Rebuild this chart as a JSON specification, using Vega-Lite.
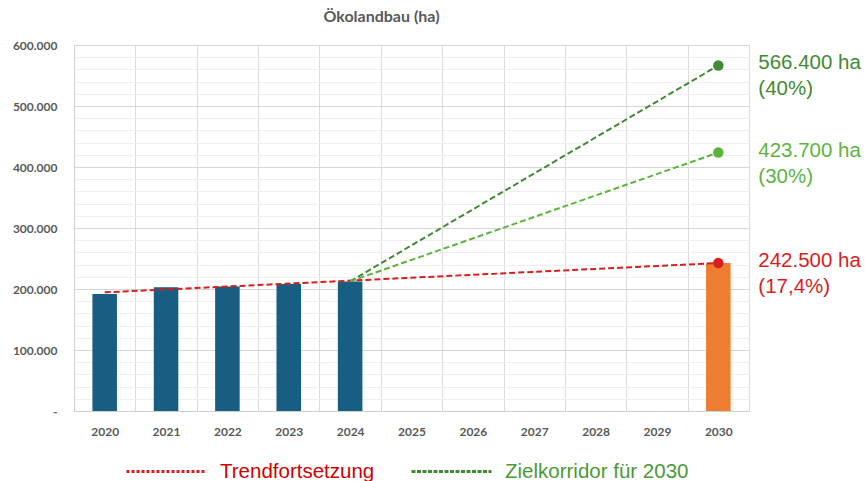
{
  "$schema": "https://vega.github.io/schema/vega-lite/v6.json",
  "width": 675,
  "height": 366,
  "autosize": {"type": "none"},
  "padding": {"left": 74, "top": 45, "right": 116, "bottom": 70},
  "background": "white",
  "config": {
    "view": {"stroke": "#8fb0c8", "strokeWidth": 1},
    "font": "Lato"
  },
  "title": {
    "text": "Ökolandbau (ha)",
    "font": "Lato",
    "fontSize": 16,
    "fontWeight": "bold",
    "color": "#595959",
    "anchor": "middle",
    "dx": -30,
    "offset": 14
  },
  "datasets": {
    "bars": [
      {"year": "2020", "value": 192000},
      {"year": "2021", "value": 203000},
      {"year": "2022", "value": 204000},
      {"year": "2023", "value": 208000},
      {"year": "2024", "value": 212500},
      {"year": "2030", "value": 242500}
    ],
    "lines": [
      {"series": "Trendfortsetzung", "year": "2020", "value": 194500},
      {"series": "Trendfortsetzung", "year": "2030", "value": 242500},
      {"series": "Zielkorridor für 2030", "year": "2024", "value": 212500},
      {"series": "Zielkorridor für 2030", "year": "2030", "value": 566400},
      {"series": "Ziel 30%", "year": "2024", "value": 212500},
      {"series": "Ziel 30%", "year": "2030", "value": 423700}
    ],
    "targets": [
      {"series": "Zielkorridor für 2030", "year": "2030", "value": 566400, "label": "566.400 ha\n(40%)"},
      {"series": "Ziel 30%", "year": "2030", "value": 423700, "label": "423.700 ha\n(30%)"},
      {"series": "Trendfortsetzung", "year": "2030", "value": 242500, "label": "242.500 ha\n(17,4%)"}
    ]
  },
  "encoding": {
    "x": {
      "field": "year",
      "type": "ordinal",
      "scale": {
        "domain": ["2020","2021","2022","2023","2024","2025","2026","2027","2028","2029","2030"],
        "paddingInner": 0,
        "paddingOuter": 0
      },
      "axis": {
        "title": null,
        "tickBand": "extent",
        "ticks": false,
        "grid": true,
        "gridColor": "#dcdcdc",
        "domainColor": "#d0d0d0",
        "labelAngle": 0,
        "labelFont": "Lato",
        "labelFontSize": 12,
        "labelFontWeight": "bold",
        "labelColor": "#595959",
        "labelPadding": 15
      }
    },
    "y": {
      "field": "value",
      "type": "quantitative",
      "scale": {"domain": [0, 600000], "nice": false, "zero": true},
      "axis": {
        "title": null,
        "values": [0,20000,40000,60000,80000,100000,120000,140000,160000,180000,200000,220000,240000,260000,280000,300000,320000,340000,360000,380000,400000,420000,440000,460000,480000,500000,520000,540000,560000,580000,600000],
        "labelExpr": "datum.value % 100000 === 0 ? (datum.value === 0 ? '-' : (datum.value / 1000) + '.000') : ''",
        "labelOverlap": false,
        "ticks": false,
        "domain": true,
        "domainColor": "#d0d0d0",
        "grid": true,
        "gridColor": {"condition": {"test": "datum.value % 100000 === 0", "value": "#d6d6d6"}, "value": "#efefef"},
        "labelFont": "Lato",
        "labelFontSize": 12,
        "labelFontWeight": "bold",
        "labelColor": "#595959",
        "labelPadding": 17
      }
    }
  },
  "layer": [
    {
      "data": {"name": "bars"},
      "mark": {"type": "bar", "width": {"band": 0.4}},
      "encoding": {
        "color": {
          "condition": {"test": "datum.year === '2030'", "value": "#ED7D31"},
          "value": "#175E82"
        }
      }
    },
    {
      "data": {"name": "lines"},
      "mark": {"type": "line", "strokeDash": [6, 3], "strokeWidth": 2},
      "encoding": {
        "detail": {"field": "series"},
        "color": {
          "field": "series",
          "type": "nominal",
          "scale": {
            "domain": ["Trendfortsetzung", "Zielkorridor für 2030", "Ziel 30%"],
            "range": ["#d81e1e", "#3f8a32", "#5cb43e"]
          },
          "legend": {
            "values": ["Trendfortsetzung", "Zielkorridor für 2030"],
            "title": null,
            "orient": "none",
            "direction": "horizontal",
            "legendX": 51,
            "legendY": 385,
            "symbolType": "stroke",
            "symbolSize": 6400,
            "symbolStrokeWidth": 3,
            "labelFont": "Liberation Sans",
            "labelFontSize": 20.5,
            "labelLimit": 400,
            "labelOffset": 12,
            "columnPadding": 30,
            "encode": {
              "symbols": {
                "update": {
                  "strokeDash": {"signal": "datum.value === 'Trendfortsetzung' ? [3, 2] : [4, 1.5]"}
                }
              },
              "labels": {
                "update": {
                  "fill": {"signal": "datum.value === 'Trendfortsetzung' ? '#d00000' : '#4b9a35'"}
                }
              }
            }
          }
        }
      }
    },
    {
      "data": {"name": "targets"},
      "mark": {"type": "point", "filled": true, "size": 110, "opacity": 1},
      "encoding": {
        "color": {"field": "series", "type": "nominal"}
      }
    },
    {
      "data": {"name": "targets"},
      "mark": {"type": "text", "align": "left", "baseline": "top", "dx": 40, "dy": -12, "font": "Liberation Sans", "fontSize": 20.5, "lineBreak": "\n", "lineHeight": 26},
      "encoding": {
        "text": {"field": "label"},
        "color": {"field": "series", "type": "nominal"}
      }
    }
  ]
}
